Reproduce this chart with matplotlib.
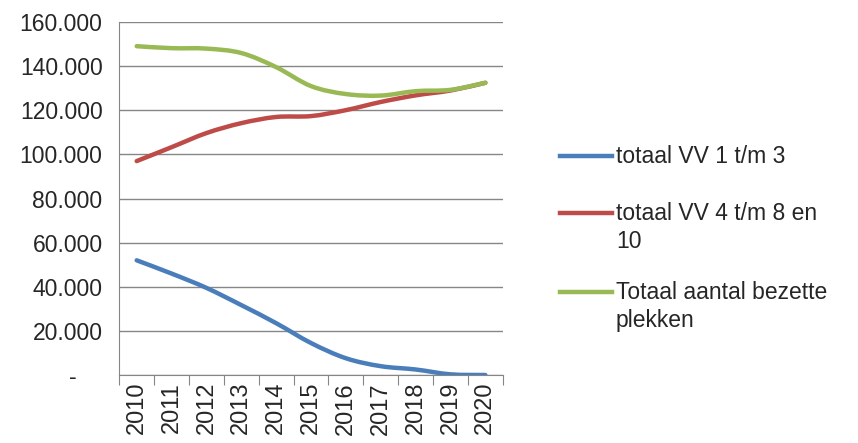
import matplotlib.pyplot as plt
from matplotlib.lines import Line2D
from matplotlib.path import Path
from matplotlib.patches import PathPatch
from matplotlib.ticker import FuncFormatter

plt.rcParams['font.family'] = ['Liberation Sans', 'DejaVu Sans']

years = ['2010', '2011', '2012', '2013', '2014', '2015', '2016', '2017', '2018', '2019', '2020']
vv_1_3 = [52000, 46000, 39500, 31700, 23500, 14500, 7600, 4000, 2500, 300, 0]
vv_4_8 = [97000, 103300, 109700, 114200, 117000, 117400, 120100, 123800, 126800, 129000, 132500]
totaal = [149100, 148200, 148000, 146000, 139600, 131000, 127400, 126700, 128700, 129300, 132500]

labels = ['totaal VV 1 t/m 3', 'totaal VV 4 t/m 8 en\n10', 'Totaal aantal bezette\nplekken']
colors = ['#4a7ebb', '#be4b48', '#98b954']


def smooth_path(xs, ys, t=1 / 6):
    # Excel-style smoothed line: Catmull-Rom segments as cubic Beziers
    verts = [(xs[0], ys[0])]
    codes = [Path.MOVETO]
    n = len(xs)
    for i in range(n - 1):
        x0, y0 = xs[max(i - 1, 0)], ys[max(i - 1, 0)]
        x1, y1 = xs[i], ys[i]
        x2, y2 = xs[i + 1], ys[i + 1]
        x3, y3 = xs[min(i + 2, n - 1)], ys[min(i + 2, n - 1)]
        verts += [(x1 + (x2 - x0) * t, y1 + (y2 - y0) * t),
                  (x2 - (x3 - x1) * t, y2 - (y3 - y1) * t),
                  (x2, y2)]
        codes += [Path.CURVE4] * 3
    return Path(verts, codes)


fig = plt.figure(figsize=(8.58, 4.43), dpi=100)
ax = fig.add_axes([0.139, 0.1535, 0.447, 0.7965])

x = list(range(len(years)))
for ys, c in zip([vv_1_3, vv_4_8, totaal], colors):
    ax.add_patch(PathPatch(smooth_path(x, ys), facecolor='none', edgecolor=c,
                           linewidth=3.2, capstyle='round', joinstyle='round'))

ax.set_xlim(-0.5, len(years) - 0.5)
ax.set_ylim(0, 160000)
ax.set_yticks(range(0, 160001, 20000))
ax.yaxis.set_major_formatter(FuncFormatter(
    lambda v, p: '-    ' if v == 0 else f'{int(v):,}'.replace(',', '.')))
ax.yaxis.grid(True, color='#868686', linewidth=1)
ax.set_axisbelow(True)
ax.tick_params(axis='y', length=0, pad=12, labelsize=16.5, colors='#262626')

ax.set_xticks([i - 0.5 for i in range(len(years) + 1)], minor=False)
ax.set_xticklabels([])
ax.set_xticks(x, minor=True)
ax.set_xticklabels(years, minor=True, rotation=90, fontsize=17, color='#262626')
ax.tick_params(axis='x', which='major', length=7, color='#868686', direction='out')
ax.tick_params(axis='x', which='minor', length=0, pad=5)

for s in ['top', 'right']:
    ax.spines[s].set_visible(False)
for s in ['left', 'bottom']:
    ax.spines[s].set_color('#868686')

# legend drawn by hand so the line sits on the first text row
W, H = 858, 443
leg_y = [156, 213, 292]
for lab, c, yy in zip(labels, colors, leg_y):
    fy = 1 - yy / H
    fig.add_artist(Line2D([560 / W, 612 / W], [fy, fy], color=c, linewidth=3.2,
                          transform=fig.transFigure))
    fig.text(616 / W, fy + 11 / H, lab, fontsize=16.5, color='#262626',
             va='top', ha='left', linespacing=1.25)

fig.savefig('out.png', dpi=100)
